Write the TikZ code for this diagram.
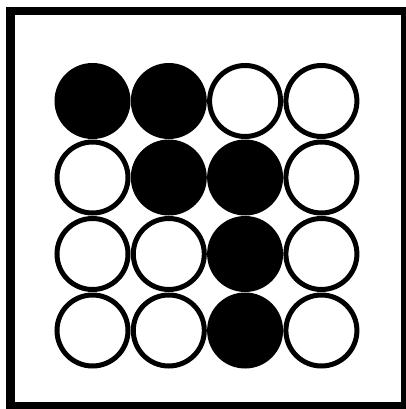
\documentclass[tikz,border=0pt]{standalone}
\usepackage{tikz}
\usetikzlibrary{positioning}

\begin{document}
\begin{tikzpicture}[x=1pt,y=-1pt,
    dot/.style={circle,draw=black,line width=5pt,minimum size=71pt,
                inner sep=0pt,fill=white},
    full/.style={dot,fill=black},
    frame/.style={draw=black,line width=8.5pt}]
  \useasboundingbox (0,0) rectangle (405,409);
  \draw[frame] (10.5,11) rectangle (405,406);
  % 4x4 grid of counters, row by row
  \foreach \r/\c/\s in {1/1/full,1/2/full,1/3/dot,1/4/dot,
                        2/1/dot,2/2/full,2/3/full,2/4/dot,
                        3/1/dot,3/2/dot,3/3/full,3/4/dot,
                        4/1/dot,4/2/dot,4/3/full,4/4/dot}
    \node[\s] (d\r\c) at ({92.5+76.3*(\c-1)},{101+76.5*(\r-1)}) {};
\end{tikzpicture}
\end{document}
